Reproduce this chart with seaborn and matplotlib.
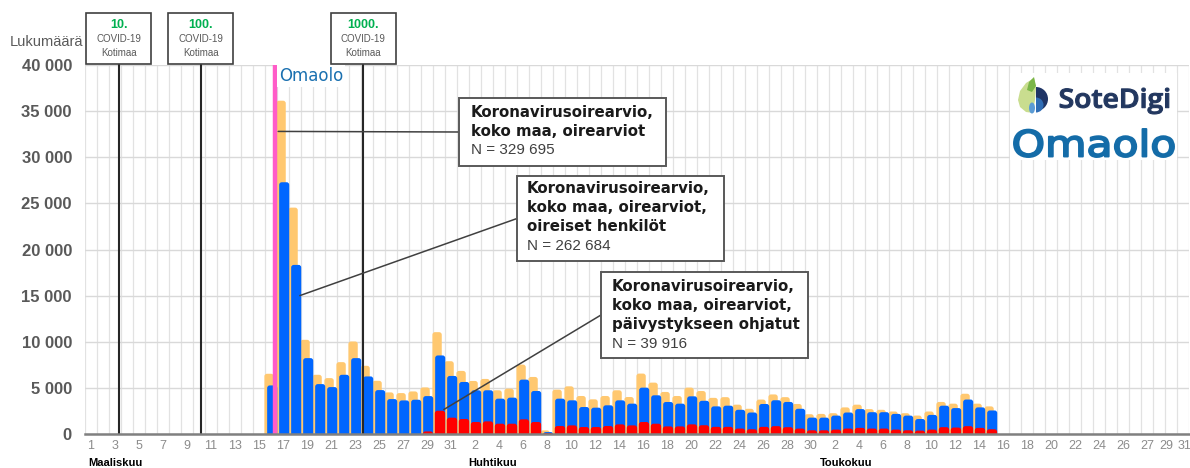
import numpy as np
import pandas as pd
import matplotlib
matplotlib.use("Agg")
import matplotlib.pyplot as plt
import seaborn as sns
from matplotlib.patches import Rectangle, FancyBboxPatch, Polygon, Wedge, Ellipse, PathPatch, ConnectionPatch
from matplotlib.textpath import TextPath
from matplotlib.font_manager import FontProperties
from matplotlib.transforms import Affine2D

# ---------------- data ----------------
# day index 0 = 1 March 2020 ... 91 = 31 May 2020
n_days = 92
first_day_all = 15   # 16 March
first_day_red = 28   # 29 March

# Koronavirusoirearvio, koko maa, oirearviot (16.3.-15.5.)
oirearviot = [6530, 36130, 24540, 10210, 6420, 6060, 7790, 10030, 7395, 5770, 4510, 4435, 4615, 5050, 11040, 7890,
              6840, 5750, 5970, 4740, 4920, 7525, 6185, 390, 4810, 5170, 4120, 3760, 4120, 4740, 4010, 6550, 5570, 4560, 4120, 5030, 4660,
              3920, 3995, 3180, 2735, 3735, 4290, 3995, 3255, 2145,
              2180, 2255, 2885, 3180, 2700, 2625, 2440, 2255, 2000, 2440, 3475, 3290, 4365, 3290, 2995]
# ... oireiset henkilot
oireiset = [5265, 27290, 18330, 8225, 5410, 5085, 6420, 8225, 6240, 4760, 3785, 3640, 3715, 4110, 8515, 6295,
            5640, 4740, 4740, 3830, 3940, 5895, 4665, 210, 3830, 3650, 2925, 2855, 3110, 3650, 3290, 5025, 4195, 3470, 3290, 4085, 3600,
            2995, 3070, 2625, 2330, 3255, 3660, 3475, 2735, 1775,
            1775, 1995, 2330, 2700, 2365, 2365, 2180, 1995, 1625, 2070, 3070, 2810, 3735, 2885, 2550]
# ... paivystykseen ohjatut (29.3.-15.5.)
paivystys = [280, 2520, 1770,
             1625, 1300, 1370, 1115, 1115, 1590, 1300, 100, 865, 935, 755, 755, 865, 1045, 935, 1300, 1115, 825, 825, 1045, 950,
             775, 775, 590, 515, 775, 850, 740, 590, 405,
             405, 480, 590, 665, 590, 590, 480, 405, 370, 480, 740, 700, 850, 665, 515]

tick_pos = list(range(0, 31, 2)) + list(range(32, 61, 2)) + list(range(62, 87, 2)) + [88, 89.6, 91.1]
tick_labels = ([str(d) for d in range(1, 32, 2)] + [str(d) for d in range(2, 31, 2)]
               + [str(d) for d in range(2, 27, 2)] + ['27', '29', '31'])
month_labels = ['Maaliskuu', 'Huhtikuu', 'Toukokuu']
month_pos = [-0.2, 33.5, 62.9]
month_ha = ['left', 'center', 'center']
y_ticks = [0, 5000, 10000, 15000, 20000, 25000, 30000, 35000, 40000]

milestones = ['10.', '100.', '1000.']
milestone_day = [2.3, 9.15, 22.7]
omaolo_day = 15.3

box_titles = [["Koronavirusoirearvio,", "koko maa, oirearviot"],
              ["Koronavirusoirearvio,", "koko maa, oirearviot,", "oireiset henkilöt"],
              ["Koronavirusoirearvio,", "koko maa, oirearviot,", "päivystykseen ohjatut"]]
box_n = ['N = 329 695', 'N = 262 684', 'N = 39 916']
box_targets = [(15.6, 32800), (17.4, 15000), (29.4, 2650)]

# ---------------- styling / layout ----------------
C_OR, C_BL, C_RD, C_PINK = '#FFC870', '#0066FF', '#FF0000', '#FF5CC8'
W, H = 1190, 468
AX_L, AX_R, AX_T, AX_B = 85, 1189, 65, 434

sns.set_style('white')
plt.rcParams['font.family'] = ['Liberation Sans', 'DejaVu Sans']

def fx(x):
    return x / W

def fy(y):
    return 1 - y / H

fig = plt.figure(figsize=(W / 100, H / 100), dpi=100)
ax = fig.add_axes([fx(AX_L), fy(AX_B), (AX_R - AX_L) / W, (AX_B - AX_T) / H])

df_o = pd.DataFrame({'day': np.arange(first_day_all, first_day_all + len(oirearviot)) - 0.16, 'n': oirearviot})
df_b = pd.DataFrame({'day': np.arange(first_day_all, first_day_all + len(oireiset)) + 0.10, 'n': oireiset})
df_r = pd.DataFrame({'day': np.arange(first_day_red, first_day_red + len(paivystys)) + 0.08, 'n': paivystys})

for df, col, wd, z in [(df_o, C_OR, 0.78, 2), (df_b, C_BL, 0.84, 3), (df_r, C_RD, 0.86, 4)]:
    sns.barplot(data=df, x='day', y='n', native_scale=True, orient='x', color=col, saturation=1,
                width=wd, errorbar=None, ax=ax, zorder=z, linewidth=0)

# rounded tops
r_x = 0.22
px_x = (AX_R - AX_L) / n_days
m_aspect = (40000 / (AX_B - AX_T)) / (1 / px_x)
r_y = r_x * m_aspect
for p in list(ax.patches):
    if isinstance(p, Rectangle):
        x, w, h = p.get_x(), p.get_width(), p.get_height()
        fc, z = p.get_facecolor(), p.get_zorder()
        p.remove()
        ax.add_patch(FancyBboxPatch((x, -2 * r_y), w, h + 2 * r_y,
                                    boxstyle=f"round,pad=0,rounding_size={r_x}",
                                    mutation_aspect=m_aspect, fc=fc, ec='none', zorder=z))

ax.set_xlim(-0.5, n_days - 0.5)
ax.set_ylim(0, 40000)
ax.set_xlabel('')
ax.set_ylabel('')
ax.set_yticks(y_ticks)
ax.set_yticklabels([f'{v:,}'.replace(',', ' ') for v in y_ticks], fontweight='bold')
ax.set_xticks(tick_pos)
ax.set_xticklabels(tick_labels)
ax.set_xticks(np.arange(-0.5, n_days, 1), minor=True)
ax.grid(False)
ax.grid(axis='y', which='major', color='#d9d9d9', lw=1.0)
ax.grid(axis='x', which='minor', color='#e2e2e2', lw=0.9)
ax.set_axisbelow(True)
for s in ['top', 'right', 'left']:
    ax.spines[s].set_visible(False)
ax.spines['bottom'].set_color('#808080')
ax.spines['bottom'].set_linewidth(1.8)
ax.spines['bottom'].set_zorder(7)
ax.tick_params(axis='x', which='both', length=0, pad=4.3, labelsize=9, labelcolor='#8c8c8c')
ax.tick_params(axis='y', which='both', length=0, pad=9.4, labelsize=12, labelcolor='#595959')

# milestone lines and boxes
for lab, d in zip(milestones, milestone_day):
    ax.axvline(d, ymin=0, ymax=1.004, color='#262626', lw=1.5, zorder=6, clip_on=False)
    cx = AX_L + (d + 0.5) / n_days * (AX_R - AX_L)
    fig.add_artist(Rectangle((fx(cx - 32.5), fy(64)), 65 / W, 51 / H, transform=fig.transFigure,
                             fc='white', ec='#404040', lw=1.2, zorder=10))
    fig.text(fx(cx), fy(25), lab, ha='center', va='center', fontsize=9, fontweight='bold', color='#00B050', zorder=11)
    fig.text(fx(cx), fy(39), 'COVID-19', ha='center', va='center', fontsize=7, color='#595959', zorder=11)
    fig.text(fx(cx), fy(52.5), 'Kotimaa', ha='center', va='center', fontsize=7, color='#595959', zorder=11)

# Omaolo launch line
ax.axvline(omaolo_day, color=C_PINK, lw=3.2, zorder=5)
fig.text(fx(279), fy(76), 'Omaolo', ha='left', va='center', fontsize=12, family='DejaVu Sans',
         color='#1a70b0', zorder=8, bbox=dict(fc='white', ec='none', pad=1.2))

# y label and months
fig.text(fx(10), fy(42), 'Lukumäärä', ha='left', va='center', fontsize=10.5, color='#595959')
for lab, pos, ha in zip(month_labels, month_pos, month_ha):
    px = AX_L + (pos + 0.5) / n_days * (AX_R - AX_L)
    fig.text(fx(px), fy(463), lab, ha=ha, va='center', fontsize=8, fontweight='bold', color='black')

# annotation boxes
boxes = [(459, 98, 666, 166, 471, [112.5, 131.5, 150.5]),
         (517, 176, 724, 261, 527, [188.5, 207.5, 226.5, 246]),
         (601, 272, 808, 358, 612, [286.5, 305.5, 324.5, 343.5])]
for (x0, y0, x1, y1, tx, ly), titles, ntxt, tgt in zip(boxes, box_titles, box_n, box_targets):
    fig.add_artist(Rectangle((fx(x0), fy(y1)), (x1 - x0) / W, (y1 - y0) / H, transform=fig.transFigure,
                             fc='white', ec='#595959', lw=1.4, zorder=10))
    for t, yy in zip(titles, ly[:-1]):
        fig.text(fx(tx), fy(yy), t, ha='left', va='center', fontsize=10.8, fontweight='bold',
                 family='DejaVu Sans', color='#1a1a1a', zorder=11)
    fig.text(fx(tx), fy(ly[-1]), ntxt, ha='left', va='center', fontsize=11, color='#404040', zorder=11)
    con = ConnectionPatch(xyA=(fx(x0), fy((y0 + y1) / 2)), coordsA=fig.transFigure,
                          xyB=tgt, coordsB=ax.transData, color='#404040', lw=1.1, zorder=9)
    fig.add_artist(con)

# logos
LX0, LY0, LX1, LY1 = 1005, 70, 1182, 166
lax = fig.add_axes([fx(LX0), fy(LY1), (LX1 - LX0) / W, (LY1 - LY0) / H], zorder=20)
lax.set_xlim(0, LX1 - LX0)
lax.set_ylim(0, LY1 - LY0)
lax.axis('off')

def L(x, y):
    return (x - LX0, LY1 - y)

lax.add_patch(Rectangle(L(1010, 160), 167, 87, fc='white', ec='none'))

def fit_text(s, box, color, prop, stroke):
    tp = TextPath((0, 0), s, size=100, prop=prop)
    ext = tp.get_extents()
    x0, y0, x1, y1 = box
    tx0, ty0 = L(x0, y1)
    tx1, ty1 = L(x1, y0)
    tr = (Affine2D().translate(-ext.x0, -ext.y0)
          .scale((tx1 - tx0) / ext.width, (ty1 - ty0) / ext.height).translate(tx0, ty0))
    lax.add_patch(PathPatch(tr.transform_path(tp), fc=color, ec=color, lw=stroke, joinstyle='round'))

fit_text('SoteDigi', (1060, 88, 1169, 114), '#22375f',
         FontProperties(family=['Open Sans', 'DejaVu Sans'], weight='semibold'), 0.8)
fit_text('Omaolo', (1014, 129, 1174, 157), '#146ca8', FontProperties(family='DejaVu Sans', weight='normal'), 1.4)

leaf = [(1034, 78), (1026, 83), (1020, 91), (1018, 100), (1020, 107), (1026, 112), (1033, 113), (1035, 100), (1036, 88)]
lax.add_patch(Polygon([L(*p) for p in leaf], closed=True, fc='#c9dd8f', ec='none'))
tip = [(1034, 77), (1029, 82), (1027, 90), (1032, 92), (1036, 86)]
lax.add_patch(Polygon([L(*p) for p in tip], closed=True, fc='#7ab648', ec='none'))
lax.add_patch(Wedge(L(1036, 99), 12, -90, 90, fc='#1f3566', ec='none'))
lax.add_patch(Wedge(L(1036, 105), 7.5, -90, 90, fc='#2f6db5', ec='none'))
lax.add_patch(Ellipse(L(1032, 108), 6, 11, fc='#5b9bd5', ec='none'))

fig.savefig('out.png', dpi=100)
